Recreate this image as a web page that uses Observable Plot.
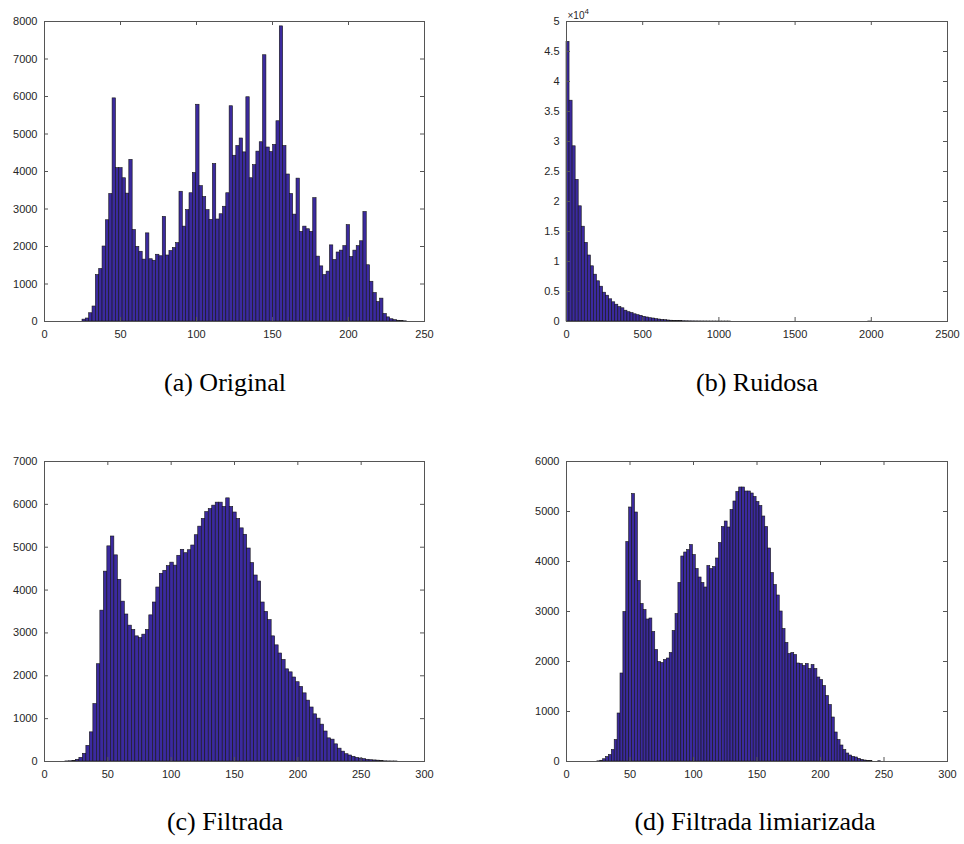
<!DOCTYPE html>
<html>
<head>
<meta charset="utf-8">
<script src="https://cdn.jsdelivr.net/npm/d3@7"></script>
<script src="https://cdn.jsdelivr.net/npm/@observablehq/plot@0.6"></script>
<style>
  body { margin: 0; background: #fff; }
  #fig { position: relative; width: 964px; height: 844px; background: #fff; }
  .panel { position: absolute; }
  .cap {
    position: absolute;
    font-family: "Liberation Serif", "Times New Roman", serif;
    font-size: 26px;
    color: #000;
    transform: translateX(-50%);
    white-space: nowrap;
    line-height: 1;
  }
</style>
</head>
<body>
<div id="fig"></div>
<script>
// Histogram counts, 100 bins per image (bin start + bin width)
const originalStart = 25, originalStep = 2.2;
const originalCounts = [
  50, 80, 220, 400, 1240, 1400, 2000, 2700, 3400, 5950,
  4090, 4090, 3820, 3410, 4310, 2440, 1990, 1860, 1650, 2350,
  1660, 1620, 1780, 1740, 2790, 1760, 1880, 1960, 2090, 3460,
  2530, 2970, 3420, 3960, 5780, 3610, 3320, 2970, 2710, 4200,
  2720, 2860, 3060, 3420, 5740, 4420, 4680, 4880, 4510, 5980,
  3820, 4170, 4530, 4780, 7100, 4640, 4520, 4710, 5340, 7870,
  4680, 3920, 3400, 2850, 3810, 2390, 2530, 2460, 2390, 3290,
  1730, 1470, 1240, 1330, 2030, 1640, 1840, 1890, 2010, 2570,
  1720, 1890, 2010, 2140, 2920, 1500, 1060, 760, 520, 610,
  200, 110, 60, 35, 20, 10, 5, 0, 0, 0
];

const noisyStart = 0, noisyStep = 20;
const noisyCounts = [
  46600, 36800, 29200, 23600, 19200, 15800, 13100, 11000, 9200, 7800,
  6700, 5800, 4800, 4300, 3700, 3200, 2800, 2400, 2200, 1800,
  1550, 1400, 1200, 1050, 950, 780, 670, 550, 500, 390,
  330, 280, 220, 170, 130, 100, 80, 60, 45, 35,
  25, 20, 15, 12, 9, 7, 5, 4, 3, 2,
  2, 1, 1, 1, 0, 0, 0, 0, 0, 0,
  0, 0, 0, 0, 0, 0, 0, 0, 0, 0,
  0, 0, 0, 0, 0, 0, 0, 0, 0, 0,
  0, 0, 0, 0, 0, 0, 0, 0, 0, 0,
  0, 0, 0, 0, 0, 0, 0, 0, 0, 1
];

const filteredStart = 2.7, filteredStep = 2.76;
const filteredCounts = [
  0, 0, 0, 0, 0, 2, 5, 15, 40, 85,
  180, 365, 680, 1340, 2270, 3520, 4430, 5020, 5250, 4810,
  4240, 3730, 3430, 3170, 3070, 2920, 2880, 2960, 3070, 3410,
  3710, 4060, 4380, 4450, 4560, 4640, 4570, 4800, 4940, 4860,
  4930, 5040, 5280, 5480, 5660, 5820, 5890, 5970, 6040, 6040,
  5940, 6140, 5940, 5810, 5660, 5440, 5290, 4970, 4630, 4340,
  4200, 3710, 3490, 3300, 2920, 2710, 2520, 2370, 2150, 2080,
  1960, 1850, 1740, 1590, 1420, 1260, 1100, 1000, 860, 700,
  540, 510, 400, 300, 230, 170, 140, 110, 85, 70,
  55, 40, 30, 25, 20, 10, 4, 2, 1, 1
];

const thresholdStart = 22, thresholdStep = 2.28;
const thresholdCounts = [
  0, 3, 15, 45, 90, 130, 230, 430, 960, 1760,
  2990, 4390, 5080, 5350, 4980, 3610, 3150, 3030, 2840, 2860,
  2590, 2230, 1990, 1970, 2030, 2060, 2170, 2610, 2950, 3570,
  4100, 4180, 4230, 4330, 4130, 3850, 3680, 3570, 3480, 3910,
  3850, 3890, 4060, 4370, 4690, 4800, 4680, 5030, 5200, 5390,
  5480, 5480, 5400, 5400, 5360, 5290, 5190, 5110, 4900, 4690,
  4260, 3770, 3530, 3320, 3000, 2650, 2370, 2150, 2170, 2130,
  1960, 1950, 1910, 1950, 1850, 1930, 1850, 1680, 1630, 1510,
  1310, 1130, 880, 580, 430, 320, 230, 160, 120, 93,
  80, 53, 33, 20, 13, 7, 0, 0, 5, 0
];

// Axis tick values
const ticks0to250 = [0, 50, 100, 150, 200, 250];
const ticks0to2500 = [0, 500, 1000, 1500, 2000, 2500];
const ticks0to300 = [0, 50, 100, 150, 200, 250, 300];
const ticks0to8000 = [0, 1000, 2000, 3000, 4000, 5000, 6000, 7000, 8000];
const ticks0to50000 = [0, 5000, 10000, 15000, 20000, 25000, 30000, 35000, 40000, 45000, 50000];
const ticks0to7000 = [0, 1000, 2000, 3000, 4000, 5000, 6000, 7000];
const ticks0to6000 = [0, 1000, 2000, 3000, 4000, 5000, 6000];

const captions = ["(a) Original", "(b) Ruidosa", "(c) Filtrada", "(d) Filtrada limiarizada"];

const W = 482, H = 351, MT = 21, MB = 30, TICK = 4;
const AXIS = "#262626", BOX = "#555555";
const BAR_FILL = "#3b2a9e", BAR_EDGE = "#141414";

function histogram({counts, start, step, xDomain, xTicks, yDomain, yTicks, yFormat, exponent, ml, mr}) {
  const bins = counts.map((c, i) => ({x1: start + i * step, x2: start + (i + 1) * step, count: c}));
  const frameH = H - MT - MB;
  const frameW = W - ml - mr;
  const marks = [
    Plot.rectY(bins, {x1: "x1", x2: "x2", y: "count", fill: BAR_FILL, stroke: BAR_EDGE, strokeWidth: 0.6}),
    Plot.frame({stroke: BOX, strokeWidth: 1}),
    // inward ticks on all four sides
    Plot.ruleX(xTicks, {x: d => d, stroke: BOX, insetTop: frameH - TICK}),
    Plot.ruleX(xTicks, {x: d => d, stroke: BOX, insetBottom: frameH - TICK}),
    Plot.ruleY(yTicks, {y: d => d, stroke: BOX, insetRight: frameW - TICK}),
    Plot.ruleY(yTicks, {y: d => d, stroke: BOX, insetLeft: frameW - TICK}),
    Plot.axisX({ticks: xTicks, anchor: "bottom", tickSize: 0, tickPadding: 9, label: null, tickFormat: d => String(d)}),
    Plot.axisY({ticks: yTicks, anchor: "left", tickSize: 0, tickPadding: 7, label: null, tickFormat: yFormat || (d => String(d))})
  ];
  if (exponent) {
    // "×10" with a raised exponent digit above the top-left corner of the frame
    marks.push(Plot.text(["×10"], {text: d => d, frameAnchor: "top-left", textAnchor: "start", lineAnchor: "bottom", dy: -3, dx: 1, fontSize: 10, fill: AXIS}));
    marks.push(Plot.text([exponent], {text: d => d, frameAnchor: "top-left", textAnchor: "start", lineAnchor: "bottom", dy: -8, dx: 18, fontSize: 8, fill: AXIS}));
  }
  return Plot.plot({
    width: W, height: H,
    marginTop: MT, marginBottom: MB, marginLeft: ml, marginRight: mr,
    style: {fontFamily: '"Liberation Sans", Arial, Helvetica, sans-serif', fontSize: "11px", color: AXIS, background: "white", overflow: "visible"},
    x: {domain: xDomain, axis: null, label: null},
    y: {domain: yDomain, axis: null, label: null},
    marks
  });
}

const fig = document.getElementById("fig");
function place(node, left, top) {
  const wrap = document.createElement("div");
  wrap.className = "panel";
  wrap.style.left = left + "px";
  wrap.style.top = top + "px";
  wrap.appendChild(node);
  fig.appendChild(wrap);
}
function caption(text, cx, top) {
  const d = document.createElement("div");
  d.className = "cap";
  d.textContent = text;
  d.style.left = cx + "px";
  d.style.top = top + "px";
  fig.appendChild(d);
}

place(histogram({counts: originalCounts, start: originalStart, step: originalStep,
  xDomain: [0, 250], xTicks: ticks0to250, yDomain: [0, 8000], yTicks: ticks0to8000, ml: 44, mr: 58}), 0, 0);

place(histogram({counts: noisyCounts, start: noisyStart, step: noisyStep,
  xDomain: [0, 2500], xTicks: ticks0to2500, yDomain: [0, 50000], yTicks: ticks0to50000,
  yFormat: d => String(d / 1e4), exponent: "4", ml: 84, mr: 17}), 482, 0);

place(histogram({counts: filteredCounts, start: filteredStart, step: filteredStep,
  xDomain: [0, 300], xTicks: ticks0to300, yDomain: [0, 7000], yTicks: ticks0to7000, ml: 44, mr: 58}), 0, 440);

place(histogram({counts: thresholdCounts, start: thresholdStart, step: thresholdStep,
  xDomain: [0, 300], xTicks: ticks0to300, yDomain: [0, 6000], yTicks: ticks0to6000, ml: 84, mr: 17}), 482, 440);

caption(captions[0], 225, 370);
caption(captions[1], 757, 370);
caption(captions[2], 225, 809);
caption(captions[3], 755, 809);
</script>
</body>
</html>
